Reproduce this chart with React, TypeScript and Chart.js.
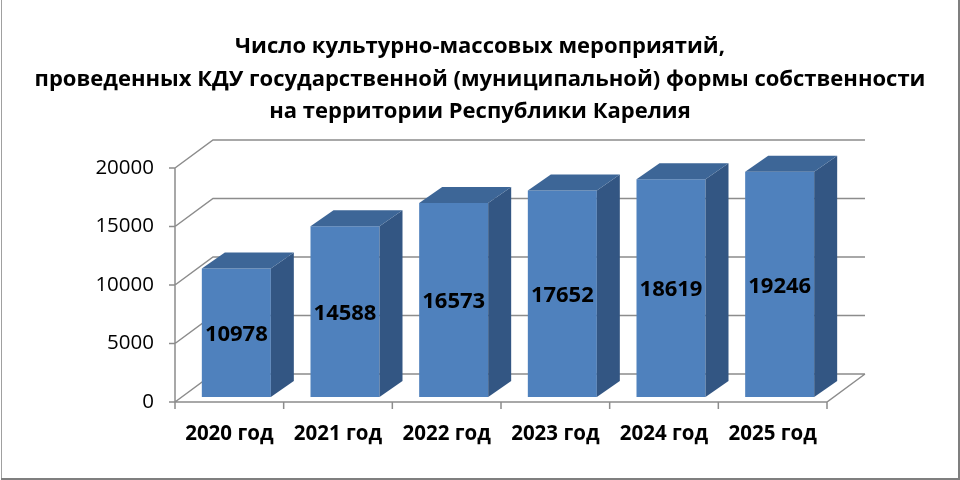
import { useEffect, useRef } from 'react';
import { Chart, registerables } from 'chart.js';
import type { Plugin } from 'chart.js';

Chart.register(...registerables);

const titleLines = [
  'Число культурно-массовых мероприятий,',
  'проведенных КДУ государственной (муниципальной) формы собственности',
  'на территории Республики Карелия',
];
const years = ['2020 год', '2021 год', '2022 год', '2023 год', '2024 год', '2025 год'];
const eventCounts = [10978, 14588, 16573, 17652, 18619, 19246];
const axisMax = 20000;
const axisStep = 5000;

const FONT = "'Open Sans', 'Noto Sans', sans-serif";

// offsets of the 3d box relative to the plane of the bar fronts
const FRONT = { dx: -7, dy: 5 };
const BACK = { dx: 31, dy: -23 };
const BAR_DEPTH = { dx: 23, dy: -16 };

const GRID = '#8c8c8c';

const box3d: Plugin<'bar'> = {
  id: 'box3d',
  beforeDraw(chart) {
    const { ctx, width, height } = chart;
    ctx.save();
    ctx.fillStyle = '#ffffff';
    ctx.fillRect(0, 0, width, height);
    ctx.restore();
  },
  beforeDatasetsDraw(chart) {
    const { ctx, chartArea, scales } = chart;
    const { left, right } = chartArea;
    const y = scales.y;
    const x = scales.x;
    const y0 = y.getPixelForValue(0);
    ctx.save();
    ctx.strokeStyle = GRID;
    ctx.lineWidth = 1.5;
    ctx.beginPath();
    y.ticks.forEach((t) => {
      const py = y.getPixelForValue(t.value);
      ctx.moveTo(left + FRONT.dx, py + FRONT.dy);
      ctx.lineTo(left + BACK.dx, py + BACK.dy);
      ctx.lineTo(right + BACK.dx, py + BACK.dy);
      ctx.moveTo(left + FRONT.dx - 6, py + FRONT.dy);
      ctx.lineTo(left + FRONT.dx, py + FRONT.dy);
    });
    // floor
    ctx.moveTo(left + FRONT.dx, y0 + FRONT.dy);
    ctx.lineTo(right + FRONT.dx, y0 + FRONT.dy);
    ctx.lineTo(right + BACK.dx, y0 + BACK.dy);
    // value axis
    ctx.moveTo(left + FRONT.dx, y.getPixelForValue(axisMax) + FRONT.dy);
    ctx.lineTo(left + FRONT.dx, y0 + FRONT.dy);
    // category ticks
    const step = x.getPixelForValue(1) - x.getPixelForValue(0);
    for (let i = 0; i <= years.length; i++) {
      const px = x.getPixelForValue(0) - step / 2 + i * step + FRONT.dx;
      ctx.moveTo(px, y0 + FRONT.dy);
      ctx.lineTo(px, y0 + FRONT.dy + 7);
    }
    ctx.stroke();
    ctx.restore();
  },
  afterDatasetsDraw(chart) {
    const { ctx } = chart;
    const meta = chart.getDatasetMeta(0);
    ctx.save();
    meta.data.forEach((bar, i) => {
      const { x: cx, y: top, base, width } = bar.getProps(['x', 'y', 'base', 'width'], true) as any;
      const l = cx - width / 2;
      const r = cx + width / 2;
      // side
      ctx.fillStyle = '#335683';
      ctx.beginPath();
      ctx.moveTo(r, top);
      ctx.lineTo(r + BAR_DEPTH.dx, top + BAR_DEPTH.dy);
      ctx.lineTo(r + BAR_DEPTH.dx, base + BAR_DEPTH.dy);
      ctx.lineTo(r, base);
      ctx.closePath();
      ctx.fill();
      // top
      ctx.fillStyle = '#3d6697';
      ctx.beginPath();
      ctx.moveTo(l, top);
      ctx.lineTo(l + BAR_DEPTH.dx, top + BAR_DEPTH.dy);
      ctx.lineTo(r + BAR_DEPTH.dx, top + BAR_DEPTH.dy);
      ctx.lineTo(r, top);
      ctx.closePath();
      ctx.fill();
      // value label
      ctx.fillStyle = '#000000';
      ctx.font = `bold 22px ${FONT}`;
      ctx.textAlign = 'center';
      ctx.textBaseline = 'middle';
      ctx.fillText(String(eventCounts[i]), cx, (top + base) / 2 + 2);
    });
    ctx.restore();
  },
  afterDraw(chart) {
    const { ctx, width, height } = chart;
    ctx.save();
    ctx.strokeStyle = '#a0a0a0';
    ctx.lineWidth = 1;
    ctx.beginPath();
    ctx.moveTo(1.5, 0);
    ctx.lineTo(1.5, height - 2);
    ctx.stroke();
    ctx.strokeStyle = '#7f7f7f';
    ctx.lineWidth = 2;
    ctx.beginPath();
    ctx.moveTo(width - 1, 0);
    ctx.lineTo(width - 1, height - 1);
    ctx.lineTo(1, height - 1);
    ctx.stroke();
    ctx.restore();
  },
};

export default function App() {
  const chartRef = useRef<HTMLCanvasElement>(null);
  const chartInstance = useRef<Chart | null>(null);

  useEffect(() => {
    document.body.style.margin = '0';
    if (!chartRef.current) return;
    if (chartInstance.current) chartInstance.current.destroy();
    const ctx = chartRef.current.getContext('2d');
    if (!ctx) return;

    chartInstance.current = new Chart(ctx, {
      type: 'bar',
      data: {
        labels: years,
        datasets: [
          {
            data: eventCounts,
            backgroundColor: '#4f81bd',
            borderWidth: 0,
            categoryPercentage: 1,
            barPercentage: 0.635,
          },
        ],
      },
      options: {
        responsive: true,
        maintainAspectRatio: false,
        animation: false,
        events: [],
        layout: { padding: 0 },
        plugins: {
          legend: { display: false },
          tooltip: { enabled: false },
          title: {
            display: true,
            text: titleLines,
            color: '#000000',
            font: { family: FONT, size: 22, weight: 'bold', lineHeight: 1.48 },
            padding: { top: 30.7, bottom: 34.6 },
          },
        },
        scales: {
          x: {
            grid: { display: false, drawTicks: false },
            border: { display: false },
            ticks: {
              color: '#000000',
              font: { family: FONT, size: 20.5, weight: 'bold' },
              padding: 25,
              labelOffset: FRONT.dx,
              maxRotation: 0,
            },
            afterFit: (scale) => {
              scale.height = 83;
            },
          },
          y: {
            min: 0,
            max: axisMax,
            grid: { display: false, drawTicks: false },
            border: { display: false },
            ticks: {
              stepSize: axisStep,
              color: '#000000',
              font: { family: FONT, size: 20.5 },
              padding: 28,
              labelOffset: FRONT.dy,
              callback: (v) => String(v),
            },
            afterFit: (scale) => {
              scale.width = 182;
            },
          },
          // empty right margin, so the title stays centred on the whole canvas
          spacer: {
            type: 'linear',
            position: 'right',
            grid: { display: false, drawTicks: false },
            border: { display: false },
            ticks: { display: false },
            afterFit: (scale) => {
              scale.width = 126;
            },
          },
        },
      },
      plugins: [box3d],
    });

    return () => {
      if (chartInstance.current) {
        chartInstance.current.destroy();
        chartInstance.current = null;
      }
    };
  }, []);

  return (
    <div style={{ width: '960px', height: '480px', position: 'relative' }}>
      <canvas ref={chartRef}></canvas>
    </div>
  );
}
